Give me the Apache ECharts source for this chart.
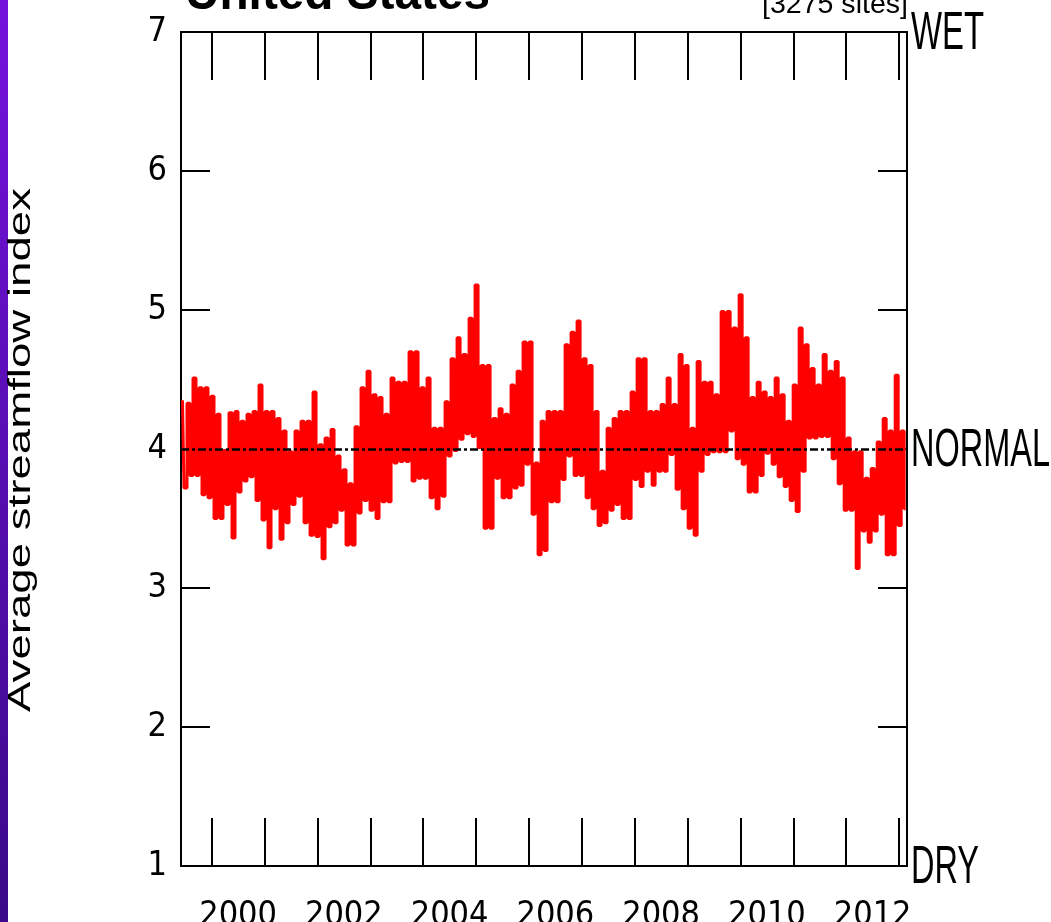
<!DOCTYPE html>
<html><head><meta charset="utf-8">
<script src="https://cdn.jsdelivr.net/npm/echarts@6/dist/echarts.min.js"></script>
<style>html,body{margin:0;padding:0;background:#fff;overflow:hidden}#c{width:1051px;height:922px}</style>
</head><body><div id="c"></div>
<script>
// ---- data ----
const highValues = [4.35,4.33,4.51,4.44,4.44,4.38,4.25,3.99,4.26,4.27,4.20,4.25,4.27,4.46,4.27,4.27,4.22,4.13,3.98,4.13,
  4.20,4.20,4.41,4.03,4.08,4.14,3.95,3.85,3.75,4.16,4.44,4.56,4.39,4.37,4.25,4.51,4.48,4.48,4.70,4.70,
  4.44,4.51,4.15,4.15,4.34,4.65,4.80,4.68,4.94,5.18,4.60,4.60,4.22,4.29,4.25,4.46,4.56,4.77,4.77,3.90,
  4.20,4.27,4.27,4.27,4.75,4.84,4.92,4.65,4.60,4.27,3.84,4.15,4.22,4.27,4.27,4.41,4.65,4.65,4.27,4.27,
  4.32,4.51,4.32,4.68,4.60,4.15,4.63,4.48,4.48,4.39,4.99,4.99,4.87,5.11,4.80,4.37,4.48,4.41,4.37,4.51,
  4.39,4.20,4.46,4.87,4.75,4.58,4.46,4.68,4.56,4.63,4.51,4.08,3.98,3.98,3.79,3.86,4.05,4.22,4.13,4.53,4.13];
const lowValues = [3.72,3.81,3.81,3.67,3.65,3.50,3.50,3.60,3.36,3.69,3.77,3.80,3.63,3.49,3.29,3.57,3.35,3.47,3.60,3.66,
  3.47,3.38,3.37,3.21,3.44,3.47,3.56,3.31,3.31,3.54,3.63,3.56,3.50,3.62,3.62,3.90,3.91,3.91,3.77,3.79,
  3.79,3.65,3.57,3.66,3.95,3.99,4.07,4.11,4.09,4.01,3.43,3.43,3.79,3.65,3.65,3.72,3.74,3.89,3.53,3.24,
  3.27,3.62,3.62,3.78,3.95,3.81,3.81,3.65,3.57,3.45,3.47,3.56,3.60,3.50,3.50,3.78,3.73,3.84,3.74,3.84,
  3.84,3.96,3.71,3.57,3.43,3.38,3.84,3.96,3.98,3.98,3.98,4.13,3.93,3.89,3.69,3.69,3.81,3.97,3.89,3.80,
  3.73,3.63,3.55,3.84,4.08,4.08,4.09,4.09,3.93,3.75,3.56,3.56,3.14,3.41,3.33,3.41,3.53,3.24,3.24,3.45,3.57];
const firstBinYear = 1999.42;
const binYears = 0.1135;
const axisStartYear = 1999.42;
const axisEndYear = 2013.15;
const yearTicks = [2000,2001,2002,2003,2004,2005,2006,2007,2008,2009,2010,2011,2012,2013];
const yearLabels = [2000,2002,2004,2006,2008,2010,2012];
const yMin = 1, yMax = 7, yStep = 1;
const normalValue = 4;
const sideLabels = ['WET','NORMAL','DRY'];
const sideLabelValues = [7,4,1];
const titleText = 'United States';
const sitesText = '[3275 sites]';
const yName = 'Average streamflow index';

// ---- build series from the arrays ----
const seriesData = [];
for (let i = 0; i < highValues.length; i++) {
  const t = firstBinYear + i * binYears;
  seriesData.push([t + binYears * 0.25, highValues[i]]);
  seriesData.push([t + binYears * 0.75, lowValues[i]]);
}

const NARROW = "'Liberation Sans Narrow','DejaVu Sans Condensed','Liberation Sans',sans-serif";
const SANS = "'Liberation Sans',Arial,sans-serif";
const G = {left:181, right:144, top:32, bottom:56, containLabel:false, outerBoundsMode:'none'};

const chart = echarts.init(document.getElementById('c'), null, {renderer:'canvas'});
const blk = '#000';
const xCommon = {
  type:'value', min:axisStartYear, max:axisEndYear,
  axisLine:{show:true, lineStyle:{color:blk, width:2}},
  splitLine:{show:false}
};
const yCommon = {
  type:'value', min:yMin, max:yMax, interval:yStep,
  axisLine:{show:true, lineStyle:{color:blk, width:2}},
  splitLine:{show:false}
};
chart.setOption({
  animation:false,
  backgroundColor:'#fff',
  grid:G,
  xAxis:[
    Object.assign({}, xCommon, {position:'bottom',
      axisTick:{show:true, inside:true, length:48, lineStyle:{color:blk,width:2}, customValues:yearTicks},
      axisLabel:{show:true, customValues:yearLabels.map(v=>v+0.5), formatter:v=>String(Math.floor(v)),
        color:blk, fontFamily:NARROW, fontSize:34, margin:33}}),
    Object.assign({}, xCommon, {position:'top',
      axisTick:{show:true, inside:true, length:48, lineStyle:{color:blk,width:2}, customValues:yearTicks},
      axisLabel:{show:false}})
  ],
  yAxis:[
    Object.assign({}, yCommon, {position:'left',
      axisTick:{show:true, inside:true, length:29, lineStyle:{color:blk,width:2}},
      axisLabel:{show:true, color:blk, fontFamily:NARROW, fontSize:34, margin:14}}),
    Object.assign({}, yCommon, {position:'right',
      axisTick:{show:true, inside:true, length:29, lineStyle:{color:blk,width:2}},
      axisLabel:{show:false}})
  ],
  series:[{
    type:'line', xAxisIndex:0, yAxisIndex:0, data:seriesData, step:'middle',
    showSymbol:false, symbol:'none', lineStyle:{color:'#ff0000', width:3}, z:2,
    markLine:{silent:true, symbol:'none', label:{show:false},
      lineStyle:{color:blk, width:2.5, type:[8,3,3,3]},
      data:[{yAxis:normalValue}], z:5}
  }]
});

function measure(text, font){
  const c = document.createElement('canvas').getContext('2d');
  c.font = font; return c.measureText(text).width;
}
function txt(text, x, y, font, fill, align, valign, targetW, rotation){
  const w = measure(text, font);
  return {type:'text', x:x, y:y, rotation:rotation||0, scaleX: targetW ? targetW / w : 1, z:10,
    style:{text:text, font:font, fill:fill, textAlign:align, textVerticalAlign:valign, align:align, verticalAlign:valign}};
}
const rightX = 1051 - G.right;
const graphics = [
  {type:'rect', left:0, top:0, shape:{x:0,y:0,width:8,height:922}, z:10,
   style:{fill:new echarts.graphic.LinearGradient(0,0,0,1,[{offset:0,color:'#7412dc'},{offset:1,color:'#3a0a88'}])}},
  txt(yName, 21, 450, '32px ' + SANS, '#000', 'center', 'middle', 524, Math.PI/2),
  txt(titleText, 185, 20, 'bold 50px ' + SANS, '#000', 'left', 'bottom', 305),
  txt(sitesText, 762, 19, '28px ' + SANS, '#000', 'left', 'bottom', 146)
];
const sideW = [73, 139, 68];
sideLabels.forEach((s, i) => {
  const py = chart.convertToPixel({yAxisIndex:0}, sideLabelValues[i]);
  graphics.push(txt(s, rightX + 4, py + 2, '54px ' + SANS, '#000', 'left', 'middle', sideW[i]));
});
chart.setOption({graphic:{elements:graphics}});
</script>
</body></html>
